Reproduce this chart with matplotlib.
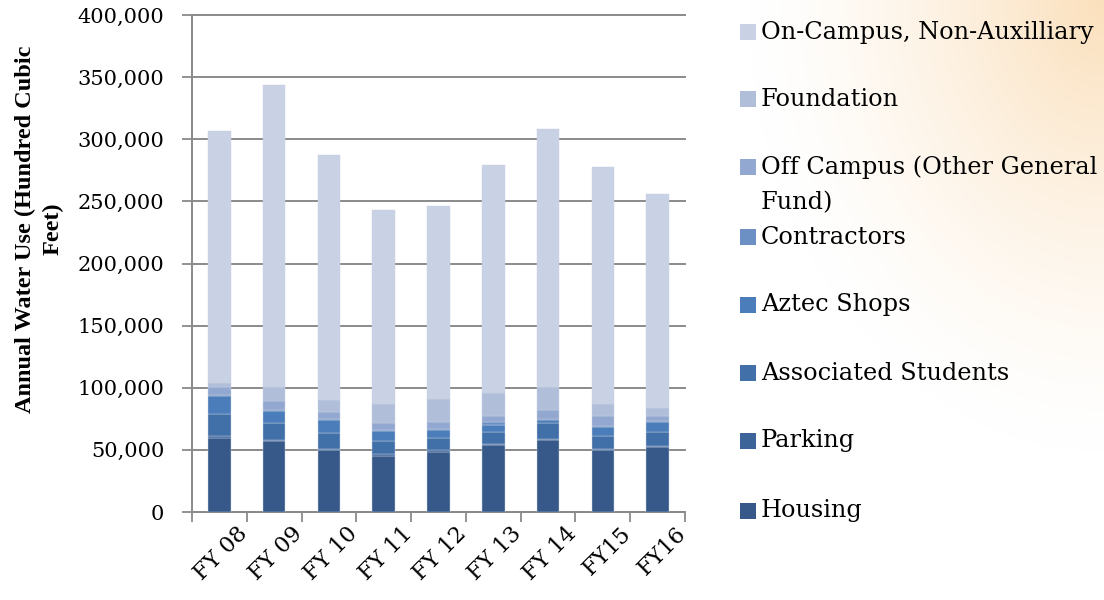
import numpy as np
import matplotlib
matplotlib.use("Agg")
import matplotlib.pyplot as plt
import matplotlib.transforms as mtransforms
from matplotlib.patches import Rectangle

# -------------------------------
# Data (hundred cubic feet)
# -------------------------------
years = ["FY 08", "FY 09", "FY 10", "FY 11", "FY 12", "FY 13", "FY 14", "FY15", "FY16"]

housing = [59800, 57000, 49800, 45100, 48500, 53700, 57700, 49900, 52500]
parking = [1400, 1300, 1000, 1300, 1100, 1000, 1100, 800, 600]
associated_students = [17400, 13100, 12500, 11000, 9700, 10000, 12600, 10700, 11100]
aztec_shops = [15000, 10200, 10700, 7800, 6700, 5300, 2500, 7300, 8500]
contractors = [800, 600, 600, 500, 500, 2200, 1000, 500, 500]
off_campus = [6500, 7400, 6100, 5700, 6200, 5300, 7200, 8300, 4300]
foundation = [3100, 11300, 9500, 15300, 18300, 18000, 18300, 9200, 6000]
on_campus = [203000, 243100, 196800, 156300, 155000, 183500, 207600, 191300, 172500]

series_names = ["Housing", "Parking", "Associated Students", "Aztec Shops",
                "Contractors", "Off Campus (Other General\nFund)", "Foundation",
                "On-Campus, Non-Auxilliary"]
series_values = [housing, parking, associated_students, aztec_shops,
                 contractors, off_campus, foundation, on_campus]
colors = ["#36598A", "#3D6499", "#4170A8", "#4A7DBA",
          "#6C8FC4", "#93A8D0", "#B0BEDA", "#C9D1E5"]

plt.rcParams["font.family"] = "DejaVu Serif"

fig = plt.figure(figsize=(11.04, 6), dpi=100)

# -------------------------------
# Background glow (top right)
# -------------------------------
bg = fig.add_axes([0, 0, 1, 1], zorder=-10)
gx, gy = np.meshgrid(np.linspace(0, 1, 400), np.linspace(0, 1, 220))
dist = np.sqrt(((gx - 1.0) / 0.32) ** 2 + ((gy - 1.0) / 0.75) ** 2)
w = np.clip(1 - dist, 0, 1) ** 1.4
peach = np.array([251, 224, 188]) / 255.0
img = (1 - w[..., None]) * 1.0 + w[..., None] * peach
bg.imshow(img, origin="lower", extent=[0, 1, 0, 1], aspect="auto")
bg.axis("off")

# -------------------------------
# Stacked bars
# -------------------------------
ax = fig.add_axes([192 / 1104, 1 - 512 / 600, 493 / 1104, 497 / 600])
ax.patch.set_alpha(0)

x = np.arange(len(years))
bottom = np.zeros(len(years))
for name, vals, c in zip(series_names, series_values, colors):
    ax.bar(x, vals, bottom=bottom, width=0.41, color=c, edgecolor="#c8d2e3",
           linewidth=0.3, zorder=3, label=name)
    bottom += np.array(vals)

ax.set_xlim(-0.5, len(years) - 0.5)
ax.set_ylim(0, 400000)
ax.set_yticks(np.arange(0, 400001, 50000))
ax.set_yticklabels([f"{v:,}" for v in range(0, 400001, 50000)], fontsize=15)
ax.yaxis.grid(True, color="#8a8a8a", linewidth=1.4, zorder=0)
for gl in ax.get_ygridlines():
    gl.set_clip_on(False)

# category labels, rotated like Excel does it
ax.set_xticks(x)
ax.set_xticklabels([])
ax.tick_params(axis="x", which="major", length=0)
shift = mtransforms.ScaledTranslation(0.25, -0.18, fig.dpi_scale_trans)
for xi, lab in zip(x, years):
    ax.text(xi, 0, lab, transform=ax.get_xaxis_transform() + shift,
            rotation=45, ha="right", va="center", rotation_mode="anchor",
            fontsize=16)

ax.set_xticks(np.arange(-0.5, len(years)), minor=True)
ax.tick_params(axis="x", which="minor", length=7, width=1.3, color="#8a8a8a", direction="out")
ax.tick_params(axis="y", length=7, width=1.3, color="#8a8a8a", direction="out", pad=13)

for s in ["top", "right"]:
    ax.spines[s].set_visible(False)
for s in ["left", "bottom"]:
    ax.spines[s].set_color("#8a8a8a")
    ax.spines[s].set_linewidth(1.4)

fig.text(39 / 1104, 1 - 229 / 600, "Annual Water Use (Hundred Cubic\nFeet)",
         rotation=90, ha="center", va="center", multialignment="center",
         fontsize=17.5, fontweight="bold", linespacing=1.4,
         family="Liberation Serif")

# -------------------------------
# Legend (drawn by hand to keep Excel spacing)
# -------------------------------
leg_y = [511, 441, 373, 305, 237, 167, 99, 32]
for name, c, yy in zip(series_names, colors, leg_y):
    yf = 1 - yy / 600
    fig.patches.append(Rectangle((740 / 1104, yf - 8 / 600), 16 / 1104, 16 / 600,
                                 transform=fig.transFigure, facecolor=c,
                                 edgecolor="none"))
    for k, line in enumerate(name.split("\n")):
        fig.text(761 / 1104, yf - k * 36 / 600, line, ha="left", va="center",
                 fontsize=17.3)

fig.savefig("out.png", dpi=100)
